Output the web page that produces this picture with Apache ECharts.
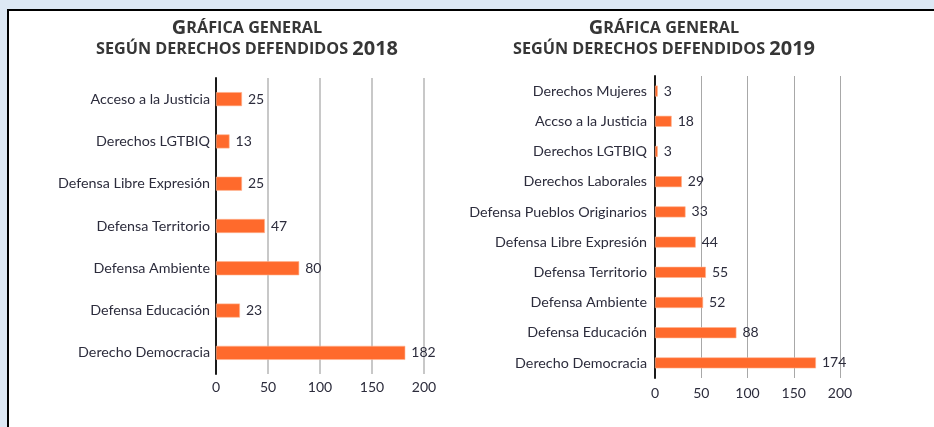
<!DOCTYPE html>
<html>
<head>
<meta charset="utf-8">
<script src="https://cdn.jsdelivr.net/npm/echarts@6/dist/echarts.min.js"></script>
<style>
  html, body { margin: 0; padding: 0; background: #dde8f4; }
  #chart { width: 934px; height: 427px; }
</style>
</head>
<body>
<div id="chart"></div>
<script>
// ---- data ----
const cats2018 = ['Acceso a la Justicia', 'Derechos LGTBIQ', 'Defensa Libre Expresión', 'Defensa Territorio',
                  'Defensa Ambiente', 'Defensa Educación', 'Derecho Democracia'];
const vals2018 = [25, 13, 25, 47, 80, 23, 182];

const cats2019 = ['Derechos Mujeres', 'Accso a la Justicia', 'Derechos LGTBIQ', 'Derechos Laborales',
                  'Defensa Pueblos Originarios', 'Defensa Libre Expresión', 'Defensa Territorio',
                  'Defensa Ambiente', 'Defensa Educación', 'Derecho Democracia'];
const vals2019 = [3, 18, 3, 29, 33, 44, 55, 52, 88, 174];

const xTicks = [0, 50, 100, 150, 200];

const FONT = 'Lato';
const TEXT = '#2c2c3c';
const BAR = '#ff6a2c';

const chart = echarts.init(document.getElementById('chart'));

function titleText(year) {
    return '{g|G}{s|RÁFICA GENERAL}\n{s|SEGÚN DERECHOS DEFENDIDOS }{g|' + year + '}';
}
const titleRich = {
    g: { fontFamily: 'Open Sans', fontWeight: 'bold', fontSize: 20, color: '#363636', lineHeight: 21 },
    s: { fontFamily: 'Open Sans', fontWeight: 'bold', fontSize: 16.2, color: '#363636', lineHeight: 21 }
};

function xAxisFor(gridIndex, labelMargin) {
    return {
        gridIndex: gridIndex,
        type: 'value',
        min: xTicks[0],
        max: xTicks[xTicks.length - 1],
        interval: 50,
        axisLine: { show: false },
        axisTick: { show: false },
        axisLabel: { fontFamily: FONT, fontSize: 14, color: TEXT, margin: labelMargin },
        splitLine: { lineStyle: { color: gridIndex === 0 ? '#c8c8c8' : '#a8a8a8', width: gridIndex === 0 ? 2 : 1 } }
    };
}

function yAxisFor(gridIndex, cats, margin) {
    return {
        gridIndex: gridIndex,
        type: 'category',
        data: cats,
        inverse: true,
        axisLine: { show: true, lineStyle: { color: '#1a1a1a', width: 2 } },
        axisTick: { show: false },
        axisLabel: { fontFamily: FONT, fontSize: 14.3, color: TEXT, margin: margin }
    };
}

function barSeries(idx, vals, w) {
    return {
        type: 'bar',
        xAxisIndex: idx,
        yAxisIndex: idx,
        data: vals,
        barWidth: w,
        itemStyle: { color: BAR, borderColor: '#ffb48f', borderWidth: 0.6 },
        label: {
            show: true,
            position: 'right',
            distance: 6,
            fontFamily: FONT,
            fontSize: 14,
            color: TEXT
        },
        silent: true
    };
}

chart.setOption({
    animation: false,
    graphic: [
        { type: 'rect', shape: { x: 8, y: 10, width: 926, height: 417 }, style: { fill: '#ffffff' }, z: -10 },
        { type: 'line', shape: { x1: 7, y1: 10, x2: 934, y2: 10 }, style: { stroke: '#000', lineWidth: 2 }, z: -9 },
        { type: 'line', shape: { x1: 8, y1: 9, x2: 8, y2: 427 }, style: { stroke: '#000', lineWidth: 2 }, z: -9 }
    ],
    title: [
        { text: titleText(2018), left: 242, top: 13, textAlign: 'center',
          textStyle: { rich: titleRich } },
        { text: titleText(2019), left: 659, top: 13, textAlign: 'center',
          textStyle: { rich: titleRich } }
    ],
    grid: [
        { left: 216, right: 510, top: 78, bottom: 53 },
        { left: 655, right: 94, top: 76, bottom: 49 }
    ],
    xAxis: [xAxisFor(0, 6), xAxisFor(1, 8)],
    yAxis: [yAxisFor(0, cats2018, 6), yAxisFor(1, cats2019, 8)],
    series: [barSeries(0, vals2018, 14), barSeries(1, vals2019, 11)]
});
</script>
</body>
</html>
